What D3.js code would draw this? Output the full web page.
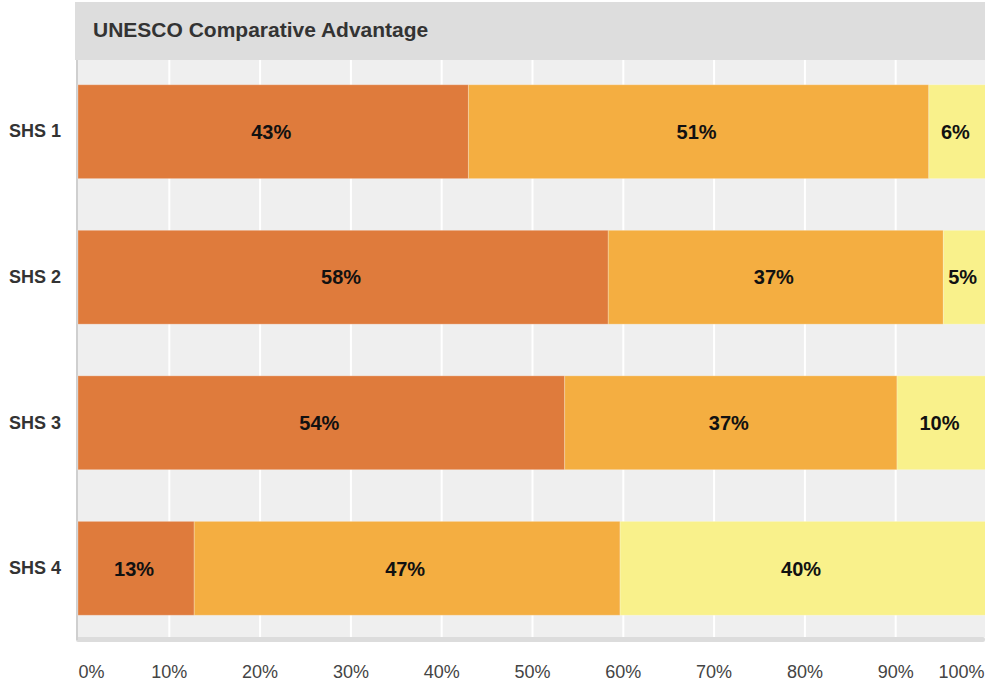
<!DOCTYPE html>
<html>
<head>
<meta charset="utf-8">
<script src="https://cdn.jsdelivr.net/npm/d3@7"></script>
<style>
  html, body { margin: 0; padding: 0; background: #ffffff; }
  svg { display: block; font-family: "Liberation Sans", Arial, sans-serif; }
</style>
</head>
<body>
<div id="chart"></div>
<script>
// Share of each comparative-advantage level per system
const categories = ["SHS 1", "SHS 2", "SHS 3", "SHS 4"];
const high   = [0.430, 0.584, 0.536, 0.128];
const medium = [0.507, 0.369, 0.366, 0.469];
const low    = [0.063, 0.047, 0.098, 0.403];
const seriesKeys = ["high", "medium", "low"];
const seriesColors = ["#df7b3c", "#f4ae41", "#f9f18b"];
const tickValues = [0, 0.1, 0.2, 0.3, 0.4, 0.5, 0.6, 0.7, 0.8, 0.9, 1.0];
const chartTitle = "UNESCO Comparative Advantage";

const W = 985, H = 686;
const plot = { left: 78, right: 986, top: 60, bottom: 640 };

const rows = categories.map((c, i) => ({ name: c, high: high[i], medium: medium[i], low: low[i] }));
const stacked = d3.stack().keys(seriesKeys)(rows);

const svg = d3.select("#chart").append("svg")
  .attr("width", W).attr("height", H);

const x = d3.scaleLinear().domain([0, 1]).range([plot.left, plot.right]);
const y = d3.scaleBand().domain(categories)
  .range([plot.top, plot.bottom])
  .paddingInner(0.355).paddingOuter(0.17);
const color = d3.scaleOrdinal().domain(seriesKeys).range(seriesColors);
const pct = d3.format(".0%");

// title strip
svg.append("rect")
  .attr("x", 75).attr("y", 2).attr("width", W - 75).attr("height", plot.top - 2)
  .attr("fill", "#dddddd");
svg.append("text")
  .attr("x", 93).attr("y", 37)
  .attr("font-size", 21).attr("font-weight", "bold").attr("fill", "#333333")
  .text(chartTitle);

// plot background
svg.append("rect")
  .attr("x", plot.left).attr("y", plot.top)
  .attr("width", W - plot.left).attr("height", 577)
  .attr("fill", "#efefef");

// vertical grid
svg.append("g")
  .attr("transform", `translate(0,${plot.top})`)
  .call(d3.axisBottom(x).tickValues(tickValues.slice(1, -1)).tickSize(577).tickFormat(""))
  .call(g => g.select(".domain").remove())
  .call(g => g.selectAll("line").attr("stroke", "#ffffff").attr("stroke-width", 2));

// baseline and left edge
svg.append("rect")
  .attr("x", plot.left - 2).attr("y", 637).attr("width", W - plot.left + 2).attr("height", 5)
  .attr("rx", 2).attr("fill", "#dcdcdc");
svg.append("rect")
  .attr("x", plot.left - 2).attr("y", plot.top).attr("width", 2).attr("height", 580)
  .attr("fill", "#cfcfcf");

// stacked bars
const layers = svg.append("g").selectAll("g")
  .data(stacked).join("g")
  .attr("fill", d => color(d.key));

layers.selectAll("rect")
  .data(d => d).join("rect")
  .attr("x", d => x(d[0]))
  .attr("y", d => y(d.data.name))
  .attr("width", d => x(d[1]) - x(d[0]))
  .attr("height", y.bandwidth())
  .attr("stroke", "rgba(255,255,255,0.25)")
  .attr("stroke-width", 1);

// value labels
layers.selectAll("text")
  .data(d => d).join("text")
  .attr("x", d => (x(d[0]) + x(d[1])) / 2 - 2)
  .attr("y", d => y(d.data.name) + y.bandwidth() / 2)
  .attr("dy", "0.36em")
  .attr("text-anchor", "middle")
  .attr("font-size", 20).attr("font-weight", "bold").attr("fill", "#111111")
  .text(d => pct(d[1] - d[0]));

// category axis
svg.append("g")
  .attr("transform", `translate(${plot.left - 17},0)`)
  .call(d3.axisLeft(y).tickSize(0).tickPadding(0))
  .call(g => g.select(".domain").remove())
  .call(g => g.selectAll("text")
    .attr("font-family", "Liberation Sans, Arial, sans-serif")
    .attr("font-size", 18).attr("font-weight", "bold").attr("fill", "#333333"));

// percentage axis
svg.append("g")
  .attr("transform", `translate(0,665)`)
  .call(d3.axisBottom(x).tickValues(tickValues).tickSize(0).tickPadding(0).tickFormat(pct))
  .call(g => g.select(".domain").remove())
  .call(g => g.selectAll("text")
    .attr("font-family", "Liberation Sans, Arial, sans-serif")
    .attr("font-size", 18).attr("fill", "#444444")
    .attr("text-anchor", (d, i, n) => i === 0 ? "start" : i === n.length - 1 ? "end" : "middle")
    .attr("dx", (d, i, n) => i === n.length - 1 ? -2 : 0));
</script>
</body>
</html>
